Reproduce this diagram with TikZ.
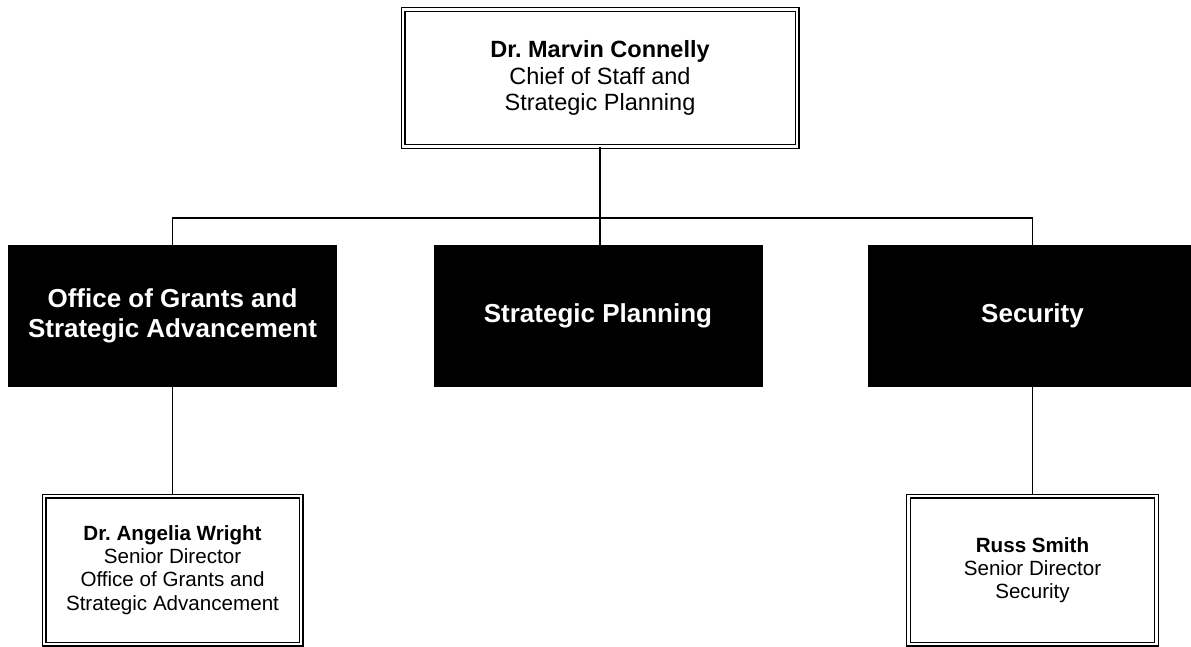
\documentclass[tikz,border=0pt]{standalone}
\usepackage{fontspec}
\setmainfont{Liberation Sans}
\usepackage{tikz}

\begin{document}
\begin{tikzpicture}[node distance=238pt, font=\fontsize{20.6}{23.2}\selectfont]
		\tikzstyle{head} = [rectangle, minimum width=394pt, minimum height=137pt, align=center, draw=black, double, double distance=2.8pt, line width=1.1pt, font=\fontsize{23.5}{26.5}\selectfont]
		
		\tikzstyle{unit} = [rectangle, minimum width=329pt, minimum height=142pt, align=center, fill=black, text=white, font=\fontsize{26}{30}\selectfont\bfseries]
		
		\tikzstyle{person} = [rectangle, minimum width=257pt, minimum height=148pt, align=center, draw=black, double, double distance=2.8pt, line width=1.1pt]
		
		\tikzstyle{link} = [draw=black, line width=1.2pt]
		%-------------------------------------------------------
		% Page frame and the chart
		\useasboundingbox (0pt,0pt) rectangle (1191pt,-646pt);
		\node (chief) [head] at (600pt,-78pt) {\textbf{Dr.\ Marvin Connelly}\\ Chief of Staff and\\ Strategic Planning};
		
			\node (grants) [unit, below of = chief, xshift=-427.5pt]{Office of Grants and\\ Strategic Advancement};
			\node (planning) [unit, right of = grants, xshift=187.5pt]{Strategic Planning};
			\node (security) [unit, right of = planning, xshift=196.5pt]{Security};
			
			\node (wright) [person, below of = grants, yshift=-16pt]{\textbf{Dr.\ Angelia Wright}\\ Senior Director\\ Office of Grants and\\ Strategic Advancement};
			
			\node (smith) [person, minimum width=248.5pt, below of = security, yshift=-16pt]{\textbf{Russ Smith}\\ Senior Director\\ Security};
		
		\coordinate (bus) at (600pt,-218pt);
		\draw [link] (chief.south) -- (bus);
		\draw [link] (bus) -| (grants.north);
		\draw [link] (bus) -- (bus |- planning.north);
		\draw [link] (bus) -| (security.north);
		
		\draw [link] (grants.south) -- (wright.north);
		\draw [link] (security.south) -- (smith.north);
		\end{tikzpicture}
\end{document}
